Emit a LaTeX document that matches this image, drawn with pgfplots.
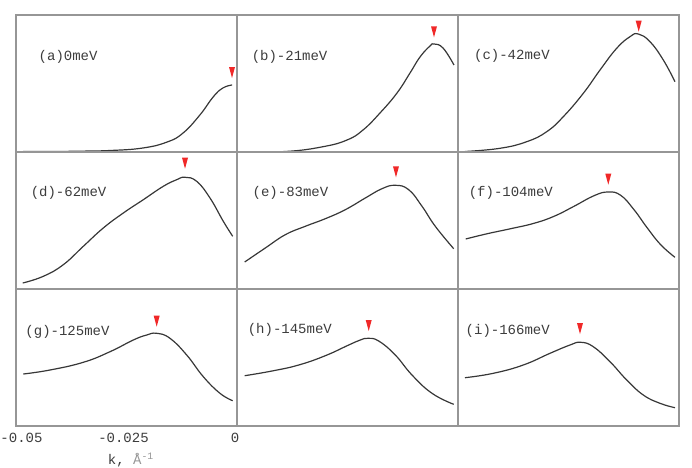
\documentclass[border=0pt]{standalone}
\usepackage{pgfplots}
\pgfplotsset{compat=1.18}
\usepackage{fontspec}
\setmainfont{Liberation Mono}
\setmonofont{Liberation Mono}
\definecolor{framegray}{RGB}{150,150,150}
\definecolor{curvecol}{RGB}{55,55,55}
\definecolor{txt}{RGB}{60,60,60}
\definecolor{mkred}{RGB}{240,40,40}

% downward red triangle, tip at the data point
\pgfdeclareplotmark{dtri}{%
  \pgfpathmoveto{\pgfqpoint{-3pt}{11pt}}%
  \pgfpathlineto{\pgfqpoint{3pt}{11pt}}%
  \pgfpathlineto{\pgfqpoint{0pt}{0pt}}%
  \pgfpathclose\pgfusepathqfill}

\pgfplotsset{
  panel/.style={scale only axis, width=221pt, height=137pt,
    xmin=-0.05, xmax=0, ymin=0, ymax=137,
    xtick=\empty, ytick=\empty, major tick length=0pt,
    scaled x ticks=false,
    axis line style={framegray, line width=1.3pt},
    anchor=south west, clip=false},
  curve/.style={curvecol, line width=1.2pt, smooth, tension=0.75, no marks},
  peak/.style={only marks, mark=dtri, color=mkred, mark options={fill=mkred}},
}
\newcommand{\plab}[3]{\node[anchor=west, inner sep=0pt, text=txt,
  font=\fontsize{14}{16}\selectfont] at (axis cs:#1,#2) {#3};}

\begin{document}
\begin{tikzpicture}
\path[use as bounding box] (0,0) rectangle (692pt,467pt);

% row 1
\begin{axis}[panel, at={(16pt,315pt)}]
\addplot[curve] coordinates {(-0.0484,0.5)(-0.040,0.6)(-0.0362,0.8)(-0.0287,1.5)(-0.0213,4)(-0.0158,10)(-0.0122,19)(-0.0084,37)(-0.0054,55)(-0.0032,64)(-0.0011,67)};
\addplot[peak] coordinates {(-0.00113,74)};
\plab{-0.0449}{95}{(a)0meV}
\end{axis}
\begin{axis}[panel, at={(237pt,315pt)}]
\addplot[curve] coordinates {(-0.04819,0.3)(-0.03869,0.6)(-0.03054,5.3)(-0.02511,12)(-0.02149,22)(-0.01765,39)(-0.0138,59)(-0.01086,79)(-0.0086,95)(-0.00634,106)(-0.00543,108)(-0.00339,104)(-0.00091,87)};
\addplot[peak] coordinates {(-0.00543,114.7)};
\plab{-0.0467}{95.3}{(b)-21meV}
\end{axis}
\begin{axis}[panel, at={(458pt,315pt)}]
\addplot[curve] coordinates {(-0.04842,0.5)(-0.0405,3.7)(-0.03446,10.3)(-0.02993,20.3)(-0.02618,35.3)(-0.02165,58.7)(-0.01787,82)(-0.0141,103.7)(-0.01109,115.3)(-0.00921,118)(-0.00656,110.3)(-0.00355,92)(-0.00091,70.3)};
\addplot[peak] coordinates {(-0.00912,120.3)};
\plab{-0.0464}{96}{(c)-42meV}
\end{axis}

% row 2
\begin{axis}[panel, at={(16pt,178pt)}]
\addplot[curve] coordinates {(-0.04848,6)(-0.04382,12.7)(-0.0393,24.3)(-0.03477,42.7)(-0.03025,61)(-0.02572,76)(-0.0212,89.3)(-0.01667,102.7)(-0.01364,109.3)(-0.01176,111.7)(-0.00912,107.7)(-0.00611,91)(-0.0031,67.7)(-0.00097,52.7)};
\addplot[peak] coordinates {(-0.01176,120.3)};
\plab{-0.0467}{96}{(d)-62meV}
\end{axis}
\begin{axis}[panel, at={(237pt,178pt)}]
\addplot[curve] coordinates {(-0.04826,27)(-0.0436,41)(-0.03907,54.3)(-0.03455,62.7)(-0.03002,70.3)(-0.0255,79.3)(-0.02097,91)(-0.0172,100.3)(-0.01419,103.7)(-0.01115,99.3)(-0.00814,82.7)(-0.00514,62.7)(-0.00097,40.3)};
\addplot[peak] coordinates {(-0.01403,111.7)};
\plab{-0.0465}{96}{(e)-83meV}
\end{axis}
\begin{axis}[panel, at={(458pt,178pt)}]
\addplot[curve] coordinates {(-0.04826,50)(-0.04337,55.3)(-0.03808,60.3)(-0.03281,65.7)(-0.02828,72.7)(-0.02376,82.7)(-0.01923,93.3)(-0.01606,97)(-0.01319,93.7)(-0.01018,79.3)(-0.00717,61)(-0.00414,44.3)(-0.00091,31.7)};
\addplot[peak] coordinates {(-0.0160,104.3)};
\plab{-0.0476}{96}{(f)-104meV}
\end{axis}

% row 3
\begin{axis}[panel, at={(16pt,41pt)},
  xtick={-0.05,-0.025,0},
  xticklabels={\hspace*{11pt}-0.05,-0.025\hspace*{6pt},0\hspace*{4pt}},
  xticklabel style={text=txt, font=\fontsize{14}{16}\selectfont, yshift=-4pt},
  xlabel={k, \textcolor{framegray}{Å\textsuperscript{-1}}},
  xlabel style={at={(axis description cs:0.52,-0.248)}, anchor=center,
    text=txt, font=\fontsize{14}{16}\selectfont}]
\addplot[curve] coordinates {(-0.04835,52)(-0.04231,56)(-0.03477,63.7)(-0.02873,74.3)(-0.02346,86)(-0.02043,91)(-0.01817,92.7)(-0.01516,87.7)(-0.01138,71)(-0.00762,49.3)(-0.00385,32.7)(-0.00097,25.3)};
\addplot[peak] coordinates {(-0.01817,99.3)};
\plab{-0.0479}{94.3}{(g)-125meV}
\end{axis}
\begin{axis}[panel, at={(237pt,41pt)}]
\addplot[curve] coordinates {(-0.04826,50.3)(-0.04208,55)(-0.03604,61)(-0.03002,70.3)(-0.02473,81)(-0.0221,86)(-0.02036,87.7)(-0.01794,85)(-0.01419,71)(-0.01041,51)(-0.00588,32.7)(-0.00097,21.7)};
\addplot[peak] coordinates {(-0.0202,95)};
\plab{-0.0476}{96}{(h)-145meV}
\end{axis}
\begin{axis}[panel, at={(458pt,41pt)}]
\addplot[curve] coordinates {(-0.04842,48.3)(-0.04201,52.7)(-0.03523,61)(-0.02919,72.7)(-0.02466,81)(-0.02224,83.7)(-0.01939,79.3)(-0.01561,64.3)(-0.01183,46)(-0.00808,31)(-0.0043,22.7)(-0.00091,18.3)};
\addplot[peak] coordinates {(-0.0224,92)};
\plab{-0.0483}{95.3}{(i)-166meV}
\end{axis}
\end{tikzpicture}
\end{document}
